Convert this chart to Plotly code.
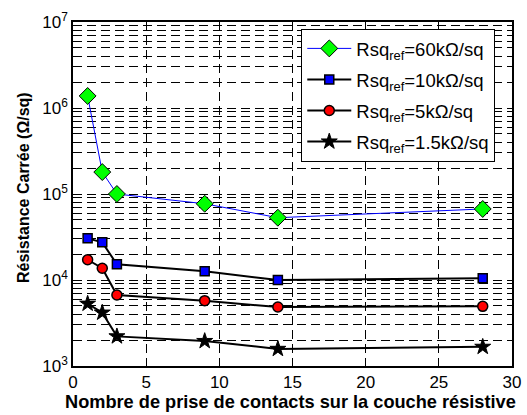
import plotly.graph_objects as go

x_contacts = [1, 2, 3, 9, 14, 28]
rsq_60k = [1.38e6, 1.8e5, 1.0e5, 7.7e4, 5.3e4, 6.7e4]
rsq_10k = [3.05e4, 2.74e4, 1.52e4, 1.26e4, 1.0e4, 1.05e4]
rsq_5k = [1.72e4, 1.37e4, 6.7e3, 5.75e3, 4.85e3, 4.94e3]
rsq_1k5 = [5.3e3, 4.17e3, 2.21e3, 1.95e3, 1.58e3, 1.67e3]

series_names = ["Rsq<sub>ref</sub>=60kΩ/sq", "Rsq<sub>ref</sub>=10kΩ/sq",
                "Rsq<sub>ref</sub>=5kΩ/sq", "Rsq<sub>ref</sub>=1.5kΩ/sq"]
y_tickvals = [1e3, 1e4, 1e5, 1e6, 1e7]
y_ticktext = ["10<sup>3</sup>", "10<sup>4</sup>", "10<sup>5</sup>", "10<sup>6</sup>", "10<sup>7</sup>"]
x_tickvals = [0, 5, 10, 15, 20, 25, 30]
x_title = "<b>Nombre de prise de contacts sur la couche résistive</b>"
y_title = "<b>Résistance Carrée (Ω/sq)</b>"

GRID_DASH = "9px,5px"

fig = go.Figure()
fig.add_trace(go.Scatter(x=x_contacts, y=rsq_60k, name=series_names[0], mode="lines+markers",
                         legendgroup="a",
                         line=dict(color="blue", width=1),
                         marker=dict(symbol="diamond", size=13, color="#00ff00",
                                     line=dict(color="black", width=1))))
fig.add_trace(go.Scatter(x=x_contacts, y=rsq_10k, name=series_names[1], mode="lines+markers",
                         legendgroup="b",
                         line=dict(color="black", width=2),
                         marker=dict(symbol="square", size=9, color="blue",
                                     line=dict(color="black", width=1.5))))
fig.add_trace(go.Scatter(x=x_contacts, y=rsq_5k, name=series_names[2], mode="lines+markers",
                         legendgroup="c",
                         line=dict(color="black", width=2),
                         marker=dict(symbol="circle", size=10, color="red",
                                     line=dict(color="black", width=1.5))))
fig.add_trace(go.Scatter(x=x_contacts, y=rsq_1k5, name=series_names[3], mode="lines+markers",
                         legendgroup="d",
                         line=dict(color="black", width=2),
                         marker=dict(symbol="star", size=12, color="black",
                                     line=dict(color="black", width=1))))

fig.update_layout(
    width=527, height=415,
    margin=dict(l=73, r=15, t=22, b=49),
    paper_bgcolor="white", plot_bgcolor="white",
    font=dict(family="Arial, Liberation Sans, sans-serif", color="black", size=17),
    legend=dict(x=0.52, y=0.98, xanchor="left", yanchor="top",
                bgcolor="white", bordercolor="black", borderwidth=1,
                font=dict(size=18.5), tracegroupgap=4, itemwidth=44),
    showlegend=True,
    annotations=[
        dict(text=x_title, xref="paper", yref="paper", x=0.495, y=0,
             xanchor="center", yanchor="middle", yshift=-36, showarrow=False,
             font=dict(size=18.2)),
        dict(text=y_title, xref="paper", yref="paper", x=0, y=0.5,
             xanchor="center", yanchor="middle", xshift=-50, yshift=6, textangle=-90,
             showarrow=False, font=dict(size=16)),
    ],
)
fig.update_xaxes(
    range=[0, 30], tickvals=x_tickvals, ticks="inside", ticklen=5, tickcolor="black",
    showline=True, linecolor="black", linewidth=1.5, mirror="ticks",
    showgrid=True, gridcolor="black", griddash=GRID_DASH, gridwidth=0.7,
    zeroline=False, automargin=False,
    tickfont=dict(size=17),
)
fig.update_yaxes(
    type="log", range=[3, 7], tickvals=y_tickvals, ticktext=y_ticktext,
    ticks="inside", ticklen=5, tickcolor="black",
    showline=True, linecolor="black", linewidth=1.5, mirror="ticks",
    showgrid=True, gridcolor="black", griddash=GRID_DASH, gridwidth=0.7,
    minor=dict(dtick="D1", showgrid=True, gridcolor="black", griddash=GRID_DASH, gridwidth=0.7,
               ticks="inside", ticklen=3, tickcolor="black"),
    zeroline=False, automargin=False,
    tickfont=dict(size=17),
)

fig.write_html("out.html", config={"displayModeBar": False},
               post_script="document.body.style.margin='0';document.body.style.overflow='hidden';")
